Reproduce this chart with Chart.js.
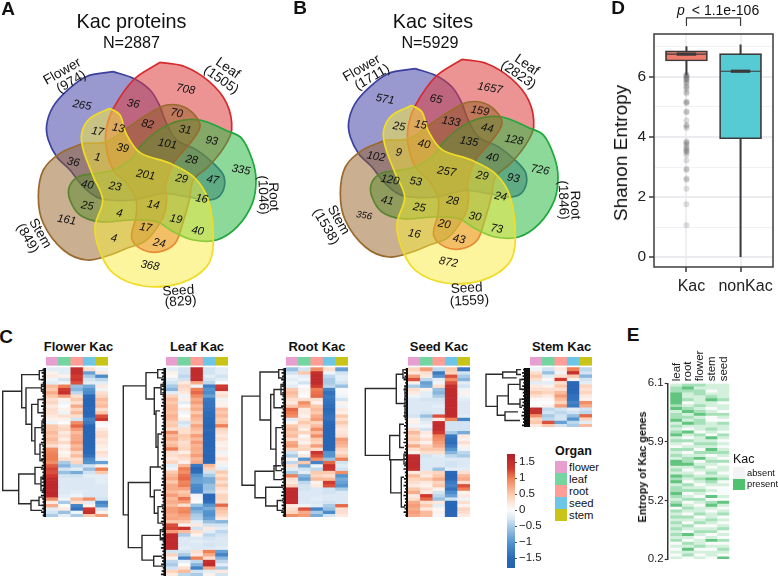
<!DOCTYPE html>
<html>
<head>
<meta charset="utf-8">
<script src="https://cdn.jsdelivr.net/npm/chart.js@4"></script>
<style>
  html, body { margin: 0; padding: 0; background: #fff; width: 778px; height: 577px; overflow: hidden; }
  canvas { position: absolute; }
  .lbl { position: absolute; white-space: nowrap; color: #111; font-family: "Liberation Sans", Arial, sans-serif; transform-origin: center; }
</style>
</head>
<body>
<script>
// organs
const organs = ['flower', 'leaf', 'root', 'seed', 'stem'];

// venn outlines, same shapes in A and B
const flowerPetal = [[340,215],[400,235],[450,270],[478,315],[497,365],[530,420],[590,450],[640,490],[672,530],[665,580],[630,600],[560,590],[490,580],[400,600],[300,595],[250,560],[210,510],[170,470],[145,420],[140,375],[158,322],[198,275],[258,230],[340,215]];
const leafPetal = [[480,187],[555,200],[628,245],[680,310],[695,390],[670,445],[625,500],[580,540],[568,600],[545,680],[525,730],[480,755],[430,750],[395,715],[408,650],[408,600],[380,550],[340,510],[318,440],[320,380],[340,325],[400,240],[480,187]];
const rootPetal = [[420,440],[470,395],[530,365],[600,360],[680,392],[725,415],[757,480],[768,540],[757,610],[712,680],[650,720],[580,720],[520,695],[470,665],[400,660],[300,665],[240,645],[210,600],[208,560],[235,530],[290,520],[340,510],[390,480],[420,440]];
const seedPetal = [[330,325],[360,345],[378,400],[420,458],[510,490],[580,530],[625,600],[640,730],[620,800],[540,850],[430,858],[340,820],[298,750],[285,680],[308,600],[280,530],[250,450],[245,400],[270,355],[330,325]];
const stemPetal = [[250,430],[320,425],[380,385],[440,345],[500,315],[560,325],[600,375],[570,430],[520,490],[497,560],[500,600],[490,650],[440,720],[380,745],[330,765],[260,780],[190,750],[130,670],[115,590],[130,510],[180,460],[250,430]];

// venn counts
const proteinCounts = [265,708,335,368,161,36,70,82,13,17,31,93,39,101,1,36,28,201,29,47,40,23,16,25,4,14,19,40,17,24,4];
const siteCounts = [571,1657,726,872,356,65,159,133,15,25,44,128,40,135,9,102,40,257,29,93,120,53,24,41,25,28,30,73,20,43,16];
const proteinAnchors = [[246,316],[557,268],[723,510],[450,797],[200,660],[400,312],[530,340],[443,373],[355,385],[293,395],[555,390],[635,423],[368,445],[502,432],[292,472],[220,487],[575,480],[437,525],[545,537],[638,540],[262,555],[345,560],[605,597],[262,618],[358,640],[460,615],[528,658],[593,693],[437,683],[478,730],[342,715]];
const siteAnchors = [[249,307],[564,274],[714,519],[439,796],[186,656],[402,307],[534,342],[447,374],[356,384],[291,389],[556,394],[636,429],[366,442],[501,434],[290,467],[222,479],[571,482],[434,524],[541,537],[634,544],[264,549],[341,554],[596,599],[256,611],[352,632],[452,612],[519,659],[584,696],[427,682],[471,727],[337,711]];

// heatmap rows: flower, leaf, root, seed, stem
const flowerRows = [
[-.2,-.2,1.5,.3,-.1],[.1,-.2,1.5,-.9,.2],[.2,.1,1.3,-.5,-1.1],[-.1,-.3,1.35,-.3,-.4],[-.2,-.1,1.2,-.2,-.2],
[.6,1,-.6,-.8,.2],[.5,1.3,-.7,-1,-.1],[.7,1.45,-.4,-1.1,.3],[.5,.8,.3,-1.5,.4],[.3,.1,.5,-1.55,.6],
[.4,-.1,.3,-1.55,.5],[.2,0,.7,-1.55,.6],[.3,.1,.4,-1.5,.3],[.3,-.1,.6,-1.55,.5],[.2,.3,.3,-1.5,1.2],
[.1,.1,-.3,-1.2,1.35],[-.1,0,.9,-1.3,.05],[.5,.3,1.1,-1.55,0],[.5,.4,.8,-1.55,.2],[.6,.2,.6,-1.55,.3],
[.5,.3,.7,-1.55,.35],[.6,.15,.7,-1.55,.2],[.5,.35,.8,-1.55,.25],[.3,.1,.6,-1.55,.15],[.9,.2,.7,-1.5,.1],
[.95,.05,.4,-1.5,.3],[1,.15,.6,-1.4,.2],[1,.3,.3,-1.1,-.1],[.9,-.5,.4,-1,-.9],[1.15,-.7,-.4,-.3,.1],
[1.25,-.3,-.2,-.6,1],[1.2,-.6,-.8,-.3,.5],[1.3,-.3,-.3,-.2,-.2],[1.55,-.25,-.25,-.25,-.2],[1.6,-.25,-.25,-.25,-.2],
[1.6,-.25,-.25,-.25,-.25],[1.6,-.25,-.25,-.25,-.25],[1.6,-.25,-.2,-.25,-.25],[1.6,-.2,-.1,-.25,-.25],[.9,-.1,.6,.9,-.3],
[.2,-.5,.3,-.2,-1.2],[.7,0,-1.2,.1,-1],[-.2,.2,-1.4,1.3,-.3],[-.3,-.6,-.1,1.5,.1],[-.5,-.2,-.5,.5,.8]];
const leafRows = [
[-.2,-.3,1.55,-.3,-.2],[.1,-.3,1.55,-.3,-.2],[.05,-.4,1.55,-.2,-.3],[-.2,-.3,1.55,-.3,-.2],[-.3,.2,.7,-.4,0],
[-.5,.4,-.1,-1.25,1.3],[-.7,.3,1,-1,1.4],[-.2,.2,1.1,-1.1,.2],[.4,-.1,.9,-.9,.3],[.6,.1,.7,-1.3,-.1],
[.5,-.2,.8,-1.35,.1],[.6,0,.6,-1.35,.1],[.6,.2,.7,-1.4,.6],[.55,-.1,.5,-1.45,.5],[.65,0,.7,-1.45,.6],
[.6,.15,.6,-1.5,.45],[.45,-.3,.5,-1.5,.5],[.5,-.2,.75,-1.55,1],[.3,.3,.6,-1.5,.4],[.9,.3,.5,-1.55,.3],
[.6,.5,.8,-1.55,.2],[.7,.45,.6,-1.55,.3],[.5,.3,.8,-1.55,.15],[.6,.35,.65,-1.55,.1],[1,.4,.7,-1.5,.2],
[.3,.15,.65,-1.5,-.1],[.3,.4,.8,-1.55,.1],[.2,.3,.6,-1.55,.3],[.4,.1,.7,-1.55,.1],[-.2,.6,-1.3,.6,-.1],
[-.1,1,-1.5,.4,-.2],[.5,.9,-1.45,-.3,.5],[.6,1.05,-1,-.5,.3],[.7,1.1,-.9,-.8,.5],[.5,.95,-.85,-.8,.3],
[.7,1,-1.1,-.6,.5],[.7,.75,-1.15,-.6,.3],[.6,.5,-1.2,-.5,.2],[.8,.6,-.1,-1.5,.4],[.6,1.05,-.05,-1.5,.4],
[.7,.8,0,-1.45,.3],[.6,.3,-.6,-1,1.1],[.8,.9,-.9,-.8,.6],[.8,.95,-.7,-1,.5],[.7,.8,-.5,-1.05,.4],
[.75,.7,-.45,-.9,.2],[.5,.5,-.2,-.6,-.7],[1.2,.1,.2,-.3,-.3],[1.25,1.4,-.3,.2,-.2],[.8,.6,.3,-.2,-.4],
[1.55,-.5,.1,-.4,-.3],[1.55,-.25,-.25,-.3,-.25],[1.55,-.25,-.2,-.25,-.25],[1.55,-.25,-.25,-.3,-.25],[1.55,-.2,-.25,-.25,-.2],
[-.3,-.3,.3,1,-.9],[.4,-.5,.2,.7,-1.2],[.1,-1.2,1,.3,-.7],[-.4,-.2,-.4,1.45,-.4],[-.5,0,-.7,1.55,-.2],
[-.3,.3,-1.2,.7,-.5],[.4,.6,-.3,-.2,.2],[.2,-.4,-.5,.1,-.3]];
const rootRows = [
[-.6,-.3,.9,.3,-.9],[-.3,.5,1.5,-.1,-.3],[-.1,-.2,1.55,-.4,-.2],[-.2,-.1,1.55,-.5,-.2],[-.1,-.3,1.55,-.5,-.3],
[-.2,0,1.3,-.4,-.6],[.5,.1,1,-1.2,-.05],[.6,.05,1.05,-1.4,-.05],[.5,0,1.1,-1.3,-.1],[.3,.3,.3,-1.35,-.3],
[.2,.9,.1,-1.4,.1],[.5,.7,.5,-1.45,-.1],[1.1,.2,.6,-1.5,.2],[1,.2,.5,-1.45,.15],[.9,.1,.7,-1.4,.5],
[-.2,.3,.8,-1.4,.3],[.1,.5,.4,-1.5,.5],[.5,.3,.6,-1.55,.3],[.6,.15,.9,-1.55,.2],[.5,.4,.6,-1.55,.25],
[.6,.05,.9,-1.55,.3],[.3,.2,.5,-1.55,.8],[.7,.1,.4,-1.55,.7],[.8,.35,.8,-1.55,.6],[.4,.4,.3,-1.55,.4],
[-.3,0,1.4,-1,.3],[-.5,.2,1.2,-1,.5],[.1,-1,.9,-.6,1],[-.4,.5,-1.2,1.1,-.3],[.3,-.8,-.1,1.45,-.2],
[-.2,-.3,-.4,1.4,-.3],[-.5,-.2,.5,.5,.9],[1,-.7,.4,.3,-1],[.3,-.9,.6,.6,-.8],[.2,-.4,.1,1.3,-.9],
[.4,-.3,.2,1.2,-1],[1.55,-.3,-.25,-.3,-.5],[1.55,-.25,-.25,-.3,-.25],[1.55,-.25,-.25,-.25,-.25],[1.55,-.25,-.2,-.25,-.25],
[1.55,-.25,-.25,-.3,-.25],[.2,-.1,-.2,-.5,1.1],[.3,1.2,-1.2,-.6,.3],[.4,.7,-.5,-1.1,.3],[.9,.8,-.8,-.3,.2]];
const seedRows = [
[.4,.8,-.4,.5,-1.3],[.2,.3,-1.3,.4,-.3],[.8,.2,-1,1.2,-.5],[1.2,-.4,-.2,.9,-.7],[.1,-.9,-.1,1.2,-.2],
[-.5,-.8,.3,1.5,-.3],[.3,.1,-.6,1.55,-.1],[.2,-.2,-.7,1.55,.1],[-.1,-.2,-.5,1.55,-.1],[-.25,-.3,-.3,1.55,-.2],
[-.25,-.25,-.25,1.55,-.25],[-.25,-.25,-.2,1.55,-.25],[-.25,-.25,-.25,1.55,-.25],[-.25,-.3,-.25,1.55,-.25],[-.3,-.6,1.2,1.55,-.2],
[.1,-.3,.2,1,-1.2],[.1,-.2,1.5,-.3,-.3],[-.1,-.1,1.55,-.3,-.3],[.3,-.3,1.5,-.3,-.3],[.6,.2,1.3,-.5,-.8],
[.4,.1,1,-1.3,.2],[.5,.3,.9,-1.4,.1],[.3,.1,.8,-1.45,.3],[.7,.4,.7,-1.3,.1],[.3,.5,.5,-1,-.1],
[.1,.3,.3,-.7,-.4],[1.5,-.3,-.2,-.4,-.5],[1.55,-.25,-.25,-.25,-.25],[1.55,-.25,-.25,-.3,-.25],[1.55,-.25,-.25,-.3,-.25],
[1.5,-.25,-.6,-.2,-.2],[.2,.3,.4,-1.5,.3],[.6,.2,.5,-1.55,.6],[.4,.5,.7,-1.5,.7],[.3,.2,.4,-1.3,.3],
[.2,.1,.5,-1.2,1.2],[.5,.3,.1,-1.4,1],[.7,.2,-.3,-1.1,.1],[.2,1.3,-.4,-.9,.2],[.3,1.1,-.6,-.3,-.1],
[.7,.3,.2,-1.5,.3],[.8,.5,-.2,-1.55,.1],[.7,.2,.05,-1.55,.4],[.8,.6,.1,-1.55,.3],[.7,.6,-.05,-1.5,.2]];
const stemRows = [
[-.1,-.3,.2,1,-.4],[.3,-.6,-.1,1.45,-.3],[.5,-.2,.3,.5,-.7],[.3,.05,1.3,.1,-.3],[-.2,-.2,.3,-1.5,-.2],
[.2,.1,.5,-1.55,.4],[.3,.3,.3,-1.55,.3],[.5,.4,.6,-1.5,.4],[.3,.2,.8,-1.4,.2],[.05,.05,.6,-1.4,.1],
[0,0,.4,-1.2,.9],[0,.1,.8,-1.3,.7],[1.5,-.4,-.3,-.2,-.3],[1.45,-.3,-.4,-.3,-.4],[.9,-.5,-.3,-.6,1.1],
[.4,-.4,-.3,-1,.4],[.5,1.2,-.9,-.4,-.2],[.2,.5,-.3,-.5,.6]];

// dendrograms: [height, top row, top child height, bottom row, bottom child height]
const flowerTree = [[43.3,7,24.3,37,27.3],[24.3,2,6.7,12,20],[6.7,.8,2,3.5,3],[20,6,4.5,17,14.3],[14.3,11,8,22,11],[8,9.5,3,13.5,3],[11,18,4,26,6],[6,23,3,28,3],[27.3,32,11,41,15],[11,30,3,35,5],[15,40,7,43,4],[4.5,5,2,7,2],[4,16,2,19,2],[5,33,2,37,2],[7,39,3,41.5,3]];
const leafTree = [[42.7,5.4,20,44.5,37.7],[37.7,34.7,15.7,54.4,24],[20,1.4,8.3,9.4,11.7],[11.7,6,5,14,10],[10,13,6,24,8],[8,20,4,30,5],[15.7,30,5,39,11.7],[11.7,37,5,44,8],[24,50.7,5.7,58.2,12.3],[12.3,57,4,60,3],[8.3,.5,2,3,3],[5,5,2,8,2],[8,42,3,47,3],[5.7,49,2,52,2]];
const rootTree = [[44,8.5,26,35.4,31],[26,1.2,7.3,15.7,15.3],[15.3,8,12,24.5,10],[12,6.5,5,12,3],[10,18,3,31,4],[31,31.2,12,39.2,20],[12,29.5,5,33.7,4],[20.3,36,3,41.7,8.7],[8.7,40,3,43,3],[7.3,.5,2,3,3],[5,5,2,8,2],[4,27,2,29,2]];
const seedTree = [[42.7,6.2,11.7,26.4,18.3],[11.7,1.9,5,10.7,3],[18.3,20.4,8.3,27.7,17.3],[8.3,17,4,24,4],[17.3,27.7,5,37.7,6.7],[6.7,33,4,42,3],[5,.5,2,3,2],[4,26,2,29,2],[3,6,1,15,1]];
const stemTree = [[44,1.9,27.3,11.7,32.7],[27.3,1.2,13.3,3,13.3],[32.7,8.5,21.7,14.4,25],[21.7,5,10,11,10],[25,13.4,12,16,10],[13.3,.5,9,2,9],[10,3.5,8,6.5,8],[10,9.5,8,12,8]];
const leafLengths = [1,2,1.4,2.4,.8,1.8,2.6,1.2];

// colour bar ticks
const colorbarTicks = [-1.5,-1,-.5,0,.5,1,1.5];

// box plot values
const boxLabels = ['Kac', 'nonKac'];
const boxQ1 = [6.53, 3.94];
const boxQ3 = [6.87, 6.78];
const boxMedian = [6.76, 6.19];
const whiskerLow = [6.05, 0];
const whiskerHigh = [7.02, 7.08];
const kacOutliers = [6.08,6.05,6.02,5.98,5.94,5.92,5.88,5.82,5.78,5.7,5.66,5.6,5.5,5.45,5.18,5.15,5.12,4.85,4.82,4.55,4.4,4.36,4.3,3.85,3.82,3.78,3.72,3.65,3.6,3.56,3.52,3.48,3.4,3.22,2.94,2.9,2.62,2.58,2.28,1.76,1.06];
const entropyTicks = [0,1,2,3,4,5,6,7];

// E: presence level per row, columns leaf root flower stem seed
const entropyColumns = ['leaf','root','flower','stem','seed'];
const entropyTickLabels = ['6.1','5.9','5.2','0.2'];
const entropyTickRows = [0,20,40,60];
const entropyRows = [
[1,2,2,1,1],[2,3,1,1,1],[2,2,2,0,1],[3,1,2,1,1],[3,1,1,2,1],[3,2,1,3,2],[3,0,1,1,0],[2,1,2,1,1],[3,2,1,0,1],[1,3,2,1,0],
[2,1,3,2,2],[2,2,1,0,1],[3,1,2,0,0],[1,3,2,1,2],[2,1,1,1,1],[1,0,1,2,1],[2,3,0,1,0],[3,1,2,0,2],[1,0,1,3,1],[2,2,1,1,0],
[1,0,2,2,1],[0,1,1,1,0],[2,2,0,3,1],[1,0,2,2,2],[2,1,1,0,1],[1,2,3,1,0],[3,2,0,2,2],[3,3,1,1,0],[1,1,2,0,1],[2,0,1,1,1],
[1,1,0,2,0],[3,2,1,1,1],[2,1,2,3,2],[3,0,1,2,0],[1,2,0,1,1],[2,1,1,0,0],[2,2,2,1,0],[3,0,1,0,0],[2,1,0,3,1],[1,2,2,0,0],
[2,0,1,2,3],[3,1,0,3,1],[0,2,1,1,0],[2,1,1,0,1],[1,0,2,1,2],[2,2,0,1,0],[1,1,1,2,1],[2,0,2,1,0],[1,2,0,0,1],[2,1,1,1,2],
[1,0,2,2,0],[2,3,1,0,1],[1,1,0,1,0],[2,0,1,3,2],[0,2,1,0,0],[1,1,2,1,1],[0,3,0,0,2],[1,1,1,1,1],[0,2,0,1,0],[1,0,1,0,3]];

Chart.defaults.font.family = '"Liberation Sans", Arial, sans-serif';
Chart.defaults.animation = false;
Chart.defaults.responsive = false;
Chart.defaults.plugins.legend.display = false;
Chart.defaults.plugins.tooltip.enabled = false;

const organColors = ['#E79FD0', '#74D5A1', '#FF9D96', '#6EC6E6', '#C9C418'];
const levelColors = ['#f8fbf9', '#d3f0dc', '#a5e0b9', '#62c47f'];
const heatStops = [[-1.8,'#2463ae'],[-1.5,'#2a68b8'],[-1,'#5595cf'],[-.5,'#a9cbe6'],[-.25,'#dce9f5'],[0,'#fbfbfb'],[.25,'#fee5d8'],[.5,'#fdc9ac'],[1,'#ef7f55'],[1.3,'#d0392f'],[1.8,'#b01f2a']];

function heatColor(v) {
  for (let i = 1; i < heatStops.length; i++) {
    if (v <= heatStops[i][0]) {
      const [a, ca] = heatStops[i - 1], [b, cb] = heatStops[i];
      const t = (v - a) / (b - a);
      const mix = s => Math.round(parseInt(ca.substr(s, 2), 16) * (1 - t) + parseInt(cb.substr(s, 2), 16) * t);
      return `rgb(${mix(1)},${mix(3)},${mix(5)})`;
    }
  }
  return heatStops[heatStops.length - 1][1];
}

function addCanvas(x, y, w, h) {
  const c = document.createElement('canvas');
  c.width = w; c.height = h;
  c.style.left = x + 'px'; c.style.top = y + 'px';
  c.style.width = w + 'px'; c.style.height = h + 'px';
  document.body.appendChild(c);
  return c.getContext('2d');
}

function label(text, x, y, size, opts = {}) {
  const s = document.createElement('div');
  s.className = 'lbl';
  s.textContent = text;
  s.style.left = x + 'px'; s.style.top = y + 'px';
  s.style.fontSize = size + 'px';
  if (opts.bold) s.style.fontWeight = 'bold';
  if (opts.italic) s.style.fontStyle = 'italic';
  if (opts.color) s.style.color = opts.color;
  const ax = opts.left ? '0' : '-50%';
  s.style.transform = `translate(${ax},-50%) rotate(${opts.rot || 0}deg)`;
  document.body.appendChild(s);
}

// ---- Venn panels
const textPlugin = {
  id: 'vennText',
  afterDatasetsDraw(chart, args, opts) {
    const { ctx, scales } = chart;
    ctx.save();
    ctx.textAlign = 'center';
    ctx.textBaseline = 'middle';
    ctx.fillStyle = '#111';
    opts.items.forEach(it => {
      ctx.save();
      ctx.translate(scales.x.getPixelForValue(it.x), scales.y.getPixelForValue(it.y));
      ctx.rotate((it.rot || 0) * Math.PI / 180);
      ctx.font = `${it.italic ? 'italic ' : ''}${it.size}px "Liberation Sans", Arial, sans-serif`;
      ctx.fillText(it.text, 0, 0);
      ctx.restore();
    });
    ctx.restore();
  }
};

function petal(points, fill, line) {
  return {
    data: points.map(([x, y]) => ({ x, y })),
    showLine: true, tension: 0.35, fill: 'shape',
    backgroundColor: fill, borderColor: line, borderWidth: 1.7,
    pointRadius: 0, clip: false
  };
}

function vennChart(left, top, counts, anchors, names) {
  const items = counts.map((c, i) => ({
    x: anchors[i][0], y: anchors[i][1], text: String(c), size: c === 356 ? 9.5 : 11.3, rot: 10, italic: true
  })).concat(names.map(n => ({ x: n[1], y: n[2], text: n[0], size: 13.6, rot: n[3] })));
  new Chart(addCanvas(left, top, 300, 320), {
    type: 'scatter',
    data: { datasets: [
      petal(seedPetal, 'rgba(250,236,60,.5)', '#f0dc26'),
      petal(stemPetal, 'rgba(150,95,35,.5)', '#9a6a2e'),
      petal(rootPetal, 'rgba(45,185,70,.55)', '#1fa83c'),
      petal(leafPetal, 'rgba(220,60,60,.55)', '#d62a2c'),
      petal(flowerPetal, 'rgba(70,70,170,.55)', '#3b409e')
    ] },
    options: {
      layout: { padding: 0 },
      scales: {
        x: { display: false, min: 0, max: 900 },
        y: { display: false, min: 0, max: 960, reverse: true }
      },
      plugins: { vennText: { items } }
    },
    plugins: [textPlugin]
  });
}

vennChart(0, 0, proteinCounts, proteinAnchors, [
  ['Flower',187,215,-30],['(974)',214,246,-30],['Leaf',683,205,35],['(1505)',663,240,35],
  ['Root',820,590,88],['(1046)',788,585,88],['Seed',535,873,-4],['(829)',542,905,-4],
  ['Stem',120,700,60],['(849)',82,715,60]]);
vennChart(302, -3, siteCounts, siteAnchors, [
  ['Flower',179,214,-30],['(1711)',211,241,-30],['Leaf',674,204,35],['(2823)',649,234,35],
  ['Root',819,624,88],['(1846)',783,609,88],['Seed',494,874,-3],['(1559)',502,912,-3],
  ['Stem',109,669,60],['(1538)',71,689,60]]);

label('A', 8, 9, 19, { bold: true });
label('B', 300, 8, 19, { bold: true });
label('C', 6, 337, 19, { bold: true });
label('D', 618, 8, 19, { bold: true });
label('E', 633, 335, 19, { bold: true });
label('Kac proteins', 131.5, 20.5, 19.8);
label('N=2887', 131.5, 41.5, 16.2);
label('Kac sites', 433, 20.5, 19.8);
label('N=5929', 430, 41.5, 16.2);

// ---- Heatmaps with dendrograms
const rowPx = 3.31;
const stripTop = -3.2, stripBottom = -0.7;

function heatmap(left, rows, tree, combPx) {
  const n = rows.length;
  const h = Math.round(rowPx * (n - stripTop));
  const datasets = rows.map((r, i) => ({
    data: r.map(() => [i, i + 1]),
    backgroundColor: r.map(heatColor),
    barPercentage: 1, categoryPercentage: 1, borderWidth: 0
  }));
  datasets.push({
    data: organs.map(() => [stripTop, stripBottom]),
    backgroundColor: organColors,
    barPercentage: 1, categoryPercentage: 1, borderWidth: 0
  });
  new Chart(addCanvas(left, 357, 62, h), {
    type: 'bar',
    data: { labels: organs, datasets },
    options: {
      layout: { padding: 0 },
      scales: {
        x: { display: false, stacked: true },
        y: { display: false, min: stripTop, max: n, reverse: true }
      }
    }
  });

  const pts = [];
  tree.forEach(([hgt, y1, c1, y2, c2]) => {
    pts.push({ x: c1, y: y1 }, { x: hgt, y: y1 }, { x: hgt, y: y2 }, { x: c2, y: y2 }, { x: NaN, y: NaN });
  });
  // leaves of the tree, one short stub per row
  const leaves = [];
  rows.forEach((r, i) => {
    leaves.push({ x: 0, y: i + .5 }, { x: combPx + leafLengths[i % leafLengths.length], y: i + .5 }, { x: NaN, y: NaN });
  });
  const treeTop = 357 + Math.round(-stripTop * rowPx);
  new Chart(addCanvas(left - 46, treeTop, 46, h - Math.round(-stripTop * rowPx)), {
    type: 'scatter',
    data: { datasets: [
      { data: pts, showLine: true, borderColor: '#2a2a2a', borderWidth: 1.4, pointRadius: 0, clip: false },
      { data: leaves, showLine: true, borderColor: '#111', borderWidth: 1.7, pointRadius: 0 },
      { data: [{ x: combPx / 2, y: 0 }, { x: combPx / 2, y: n }], showLine: true, borderColor: '#0a0a0a',
        borderWidth: combPx, pointRadius: 0 }
    ] },
    options: {
      layout: { padding: 0 },
      scales: {
        x: { display: false, min: 0, max: 46, reverse: true },
        y: { display: false, min: 0, max: n, reverse: true }
      }
    }
  });
}

heatmap(46, flowerRows, flowerTree, 2.5);
heatmap(166, leafRows, leafTree, 2.5);
heatmap(286, rootRows, rootTree, 2.5);
heatmap(408, seedRows, seedTree, 2);
heatmap(530, stemRows, stemTree, 6);

label('Flower Kac', 78.5, 345.5, 13, { bold: true });
label('Leaf Kac', 197, 345.5, 13, { bold: true });
label('Root Kac', 317, 345.5, 13, { bold: true });
label('Seed Kac', 439, 345.5, 13, { bold: true });
label('Stem Kac', 561.5, 345.5, 13, { bold: true });

// ---- Colour bar
new Chart(addCanvas(500, 445, 50, 132), {
  type: 'bar',
  data: { labels: [''], datasets: [{
    data: [[-1.81, 1.76]],
    barPercentage: 1, categoryPercentage: 1, borderWidth: 0, borderSkipped: false,
    backgroundColor(ctx) {
      const { chart } = ctx;
      if (!chart.chartArea) return '#fff';
      const y = chart.scales.y;
      const g = chart.ctx.createLinearGradient(0, y.getPixelForValue(-1.81), 0, y.getPixelForValue(1.76));
      heatStops.forEach(([v, c]) => g.addColorStop(Math.min(1, Math.max(0, (v + 1.81) / 3.57)), c));
      return g;
    }
  }] },
  options: {
    layout: { padding: { left: 7, top: 6.7 } },
    scales: {
      x: { display: false },
      y: {
        position: 'right', min: -1.81, max: 1.76,
        afterFit(s) { s.width = 35; },
        afterBuildTicks(s) { s.ticks = colorbarTicks.map(value => ({ value })); },
        border: { display: false },
        grid: { drawOnChartArea: false, tickLength: 2, tickColor: '#555' },
        ticks: {
          padding: 2, color: '#1a1a1a', font: { size: 11.5 },
          callback: v => String(v).replace('-', '\u2212')
        }
      }
    }
  }
});

// ---- Organ legend
label('Organ', 555, 451, 12.5, { bold: true, left: true });
organs.forEach((o, i) => {
  const box = document.createElement('div');
  box.style.cssText = `position:absolute;left:555px;top:${461 + i * 12.1}px;width:12px;height:12.1px;background:${organColors[i]}`;
  document.body.appendChild(box);
  label(o, 569, 466.7 + i * 12.1, 11.3, { left: true });
});

// ---- Box plot
const borderPlugin = {
  id: 'panelBorder',
  afterDraw(chart) {
    const { ctx, chartArea: a } = chart;
    ctx.save();
    ctx.strokeStyle = '#3c3c3c';
    ctx.lineWidth = 1.5;
    ctx.strokeRect(a.left, a.top, a.right - a.left, a.bottom - a.top);
    ctx.restore();
  }
};
const boxColors = ['#EE7A6C', '#57CBD3'];
const dark = '#3a3a3a';
function lineSet(points, width, order, clip) {
  return { type: 'line', data: points, borderColor: dark, borderWidth: width, pointRadius: 0, order, clip: clip === undefined ? undefined : clip, backgroundColor: dark };
}
const bracketDatasets = [lineSet([{ x: 1, y: 7.7 }, { x: 1, y: 7.97 }, { x: 2, y: 7.97 }, { x: 2, y: 7.7 }], 1.2, 0, false)];
const boxDatasets = boxLabels.flatMap((_, i) => {
  const x = i + 1;
  return [
    lineSet([{ x, y: whiskerLow[i] }, { x, y: whiskerHigh[i] }], 2, 3),
    lineSet([{ x: x - .38, y: boxMedian[i] }, { x: x + .38, y: boxMedian[i] }], 1.1, 1),
    lineSet([{ x: x - .18, y: boxMedian[i] }, { x: x + .18, y: boxMedian[i] }], 3.2, 0)
  ];
});
new Chart(addCanvas(575, 0, 203, 300), {
  type: 'bar',
  data: { datasets: [
    { type: 'scatter', data: kacOutliers.map(y => ({ x: 1, y })), backgroundColor: 'rgba(60,60,60,.17)', borderWidth: 0, pointRadius: 3, order: 4 },
    { data: boxQ1.map((q, i) => ({ x: i + 1, y: [q, boxQ3[i]] })), backgroundColor: boxColors, borderColor: dark, borderWidth: 1.7, borderSkipped: false, barThickness: 42, order: 2 },
    ...boxDatasets, ...bracketDatasets
  ] },
  options: {
    layout: { padding: { top: 34, right: 5 } },
    scales: {
      x: {
        type: 'linear', min: .4, max: 2.6, offset: false,
        afterBuildTicks(s) { s.ticks = boxLabels.map((_, i) => ({ value: i + 1 })); },
        afterFit(s) { s.height = 33; },
        border: { display: false },
        grid: { color: '#eeeef3', lineWidth: 2, tickColor: dark, tickWidth: 1.5, tickLength: 5, offset: false },
        ticks: { callback: v => boxLabels[v - 1], color: '#222', font: { size: 16 }, padding: 5, maxRotation: 0, labelOffset: 5 }
      },
      y: {
        min: -.33, max: 7.43,
        afterBuildTicks(s) { s.ticks = entropyTicks.map(value => ({ value })); },
        afterFit(s) { s.width = 79; },
        border: { display: false },
        grid: {
          color: c => c.tick && c.tick.value % 2 === 0 ? '#ebebf0' : '#f2f2f6',
          lineWidth: c => c.tick && c.tick.value % 2 === 0 ? 2 : 1,
          tickColor: c => c.tick && c.tick.value % 2 === 0 ? dark : 'transparent',
          tickWidth: 1.5, tickLength: 5
        },
        ticks: { callback: v => v % 2 === 0 ? String(v) : '', color: '#222', font: { size: 15.5 }, padding: 3 }
      }
    }
  },
  plugins: [borderPlugin]
});
label('Shanon Entropy', 620.5, 153, 19, { rot: -90 });
label('p', 681, 9.5, 14, { italic: true });
label('< 1.1e-106', 725.5, 9.5, 14);

// ---- E presence heatmap
const columnLabelPlugin = {
  id: 'columnLabels',
  afterDraw(chart) {
    const { ctx, scales, chartArea } = chart;
    ctx.save();
    ctx.fillStyle = '#1a1a1a';
    ctx.font = '11.5px "Liberation Sans", Arial, sans-serif';
    ctx.textAlign = 'left';
    ctx.textBaseline = 'middle';
    entropyColumns.forEach((name, i) => {
      ctx.save();
      ctx.translate(scales.x.getPixelForValue(i + .5), chartArea.top - 2);
      ctx.rotate(-Math.PI / 2);
      ctx.fillText(name, 0, 0);
      ctx.restore();
    });
    ctx.restore();
  }
};
const entropyDatasets = entropyRows.map((r, i) => ({
  data: r.map((_, c) => ({ x: c + .5, y: [i, i + 1] })),
  backgroundColor: r.map(v => levelColors[v]),
  barThickness: 11.8, borderWidth: 0
}));
new Chart(addCanvas(640, 335, 95, 232), {
  type: 'bar',
  data: { datasets: entropyDatasets },
  options: {
    layout: { padding: { right: 5.7, bottom: 6.7 } },
    scales: {
      x: {
        type: 'linear', position: 'top', min: -.25, max: 5, offset: false, stacked: true,
        afterFit(s) { s.height = 48.3; },
        border: { display: false },
        grid: { display: false, drawTicks: false },
        ticks: { display: false }
      },
      y: {
        min: 0, max: 60, reverse: true,
        afterBuildTicks(s) { s.ticks = entropyTickRows.map(value => ({ value })); },
        afterFit(s) { s.width = 27.7; },
        border: { display: true, color: '#333', width: 1.5 },
        grid: { drawOnChartArea: false, tickLength: 3, tickColor: '#333', tickWidth: 1.2 },
        ticks: { callback: v => entropyTickLabels[entropyTickRows.indexOf(v)], color: '#1a1a1a', font: { size: 11.5 }, padding: 1 }
      }
    }
  },
  plugins: [columnLabelPlugin]
});
label('Entropy of Kac genes', 641.7, 467, 10.8, { bold: true, rot: -90 });
label('Kac', 733, 459, 12.5, { left: true });
const absentBox = document.createElement('div');
absentBox.style.cssText = 'position:absolute;left:733px;top:467px;width:12px;height:11.5px;background:#f3f3f3';
document.body.appendChild(absentBox);
const presentBox = document.createElement('div');
presentBox.style.cssText = 'position:absolute;left:733px;top:478.5px;width:12px;height:11.5px;background:#4fc26f';
document.body.appendChild(presentBox);
label('absent', 747, 472.5, 9.3, { left: true });
label('present', 747, 484, 9.3, { left: true });
</script>
</body>
</html>
